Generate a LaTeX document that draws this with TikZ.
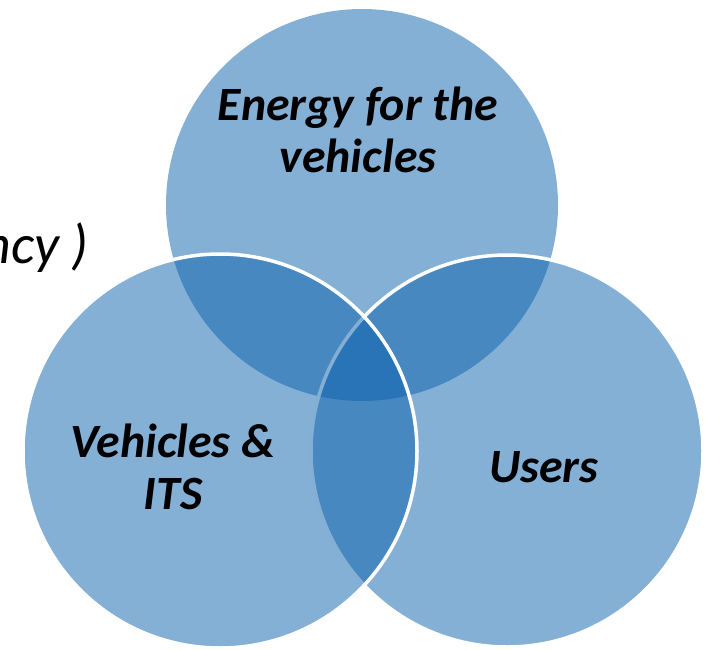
\documentclass[tikz,border=0pt]{standalone}
\usepackage{fontspec}
\setmainfont{Carlito}
\begin{document}
\begin{tikzpicture}[x=1bp,y=-1bp]
\definecolor{vblue}{RGB}{11,97,173}
\tikzset{
  venn/.style={fill=vblue, fill opacity=0.5},
  rim/.style={draw=white, line width=3.5bp},
  lab/.style={font=\fontsize{48}{52}\selectfont\bfseries\itshape, align=center, text=black, inner sep=0pt},
  side/.style={font=\fontsize{56}{60}\selectfont\itshape, text=black, inner sep=0pt}
}
\useasboundingbox (0,0) rectangle (706,650);
\path[venn] (362,205) circle[radius=196];
\path[venn, rim] (507,451) circle[radius=196];
\path[venn, rim] (220,451) circle[radius=197];
\node[side, anchor=base east] (cut) at (89,263) {ncy )};
\node[lab] (energy) at (358,130) {Energy for the\\vehicles};
\node[lab] (vits) at (173,467) {Vehicles \&\\ITS};
\node[lab] (users) at (544,467) {Users};
\end{tikzpicture}
\end{document}
